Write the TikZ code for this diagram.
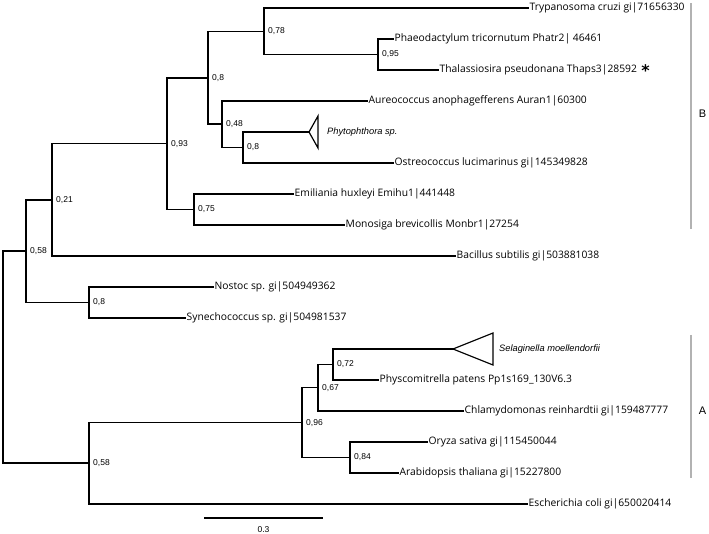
\documentclass[tikz,border=0pt]{standalone}
\usepackage{fontspec}
\setmainfont{Open Sans}
\newfontfamily\arialfont{Liberation Sans}
\newfontfamily\dvfont{DejaVu Sans}
\begin{document}
\begin{tikzpicture}[x=1pt,y=-1pt,
  branch/.style={line width=1.2pt, black, line cap=rect},
  taxon/.style={anchor=west, inner sep=1.5pt, font=\fontsize{10.3}{12}\selectfont},
  support/.style={anchor=west, inner sep=0pt, font=\arialfont\fontsize{8.5}{10}\selectfont},
  clade/.style={anchor=west, inner sep=0pt, font=\arialfont\itshape\fontsize{9.3}{11}\selectfont},
  groupbar/.style={line width=1.5pt, black!30},
  grouplbl/.style={inner sep=0pt, font=\arialfont\fontsize{11}{13}\selectfont}
]
\useasboundingbox (0,0) rectangle (709,534);

% internal nodes
\coordinate (R) at (3,357);
\coordinate (nA) at (26,251);
\coordinate (n021) at (52,200);
\coordinate (n093) at (167,143.75);
\coordinate (n08a) at (208,78);
\coordinate (n078) at (264,31.25);
\coordinate (n095) at (378,54.5);
\coordinate (n048) at (222,124);
\coordinate (n08b) at (243,147.5);
\coordinate (n075) at (194,209.5);
\coordinate (n08c) at (89,302.5);
\coordinate (nB) at (89,463);
\coordinate (n096) at (302,422.6);
\coordinate (n067) at (318,387.75);
\coordinate (n072) at (333,364.5);
\coordinate (n084) at (350,457.5);

% leaves
\node[taxon] (tryp) at (528,8) {Trypanosoma cruzi gi|71656330};
\node[taxon] (phae) at (393,39) {Phaeodactylum tricornutum Phatr2| 46461};
\node[taxon] (thal) at (438,70) {Thalassiosira pseudonana Thaps3|28592};
\node[inner sep=0pt, anchor=base, font=\dvfont\bfseries\fontsize{16}{16}\selectfont] (star) at (645.5,77) {*};
\node[taxon] (aure) at (367,101) {Aureococcus anophagefferens Auran1|60300};
\coordinate (phyt) at (309,132);
\node[clade] (phyl) at (327,132) {Phytophthora sp.};
\node[taxon] (ostr) at (393,163) {Ostreococcus lucimarinus gi|145349828};
\node[taxon] (emil) at (293,194) {Emiliania huxleyi Emihu1|441448};
\node[taxon] (mono) at (344,225) {Monosiga brevicollis Monbr1|27254};
\node[taxon] (baci) at (455,256) {Bacillus subtilis gi|503881038};
\node[taxon] (nost) at (213,287) {Nostoc sp. gi|504949362};
\node[taxon] (syne) at (185,318) {Synechococcus sp. gi|504981537};
\coordinate (selt) at (453,349);
\node[clade] (sell) at (499,349) {Selaginella moellendorfii};
\node[taxon] (phys) at (378,380) {Physcomitrella patens Pp1s169\_130V6.3};
\node[taxon] (chla) at (463,411) {Chlamydomonas reinhardtii gi|159487777};
\node[taxon] (oryz) at (427,442) {Oryza sativa gi|115450044};
\node[taxon] (arab) at (398,473) {Arabidopsis thaliana gi|15227800};
\node[taxon] (ecol) at (527,504) {Escherichia coli gi|650020414};

% collapsed clades
\draw[branch, line cap=butt, line join=miter] (phyt) -- (318,116) -- (318,148) -- cycle;
\draw[branch, line cap=butt, line join=miter] (selt) -- (493,333) -- (493,365) -- cycle;

% branches
\draw[branch] (nA) -| (R) |- (nB);
\draw[branch] (n021) -| (nA) |- (n08c);
\draw[branch] (n093) -| (n021) |- (baci.west);
\draw[branch] (n08a) -| (n093) |- (n075);
\draw[branch] (n078) -| (n08a) |- (n048);
\draw[branch] (tryp.west) -| (n078) |- (n095);
\draw[branch] (phae.west) -| (n095) |- (thal.west);
\draw[branch] (aure.west) -| (n048) |- (n08b);
\draw[branch] (phyt) -| (n08b) |- (ostr.west);
\draw[branch] (emil.west) -| (n075) |- (mono.west);
\draw[branch] (nost.west) -| (n08c) |- (syne.west);
\draw[branch] (n096) -| (nB) |- (ecol.west);
\draw[branch] (n067) -| (n096) |- (n084);
\draw[branch] (n072) -| (n067) |- (chla.west);
\draw[branch] (selt) -| (n072) |- (phys.west);
\draw[branch] (oryz.west) -| (n084) |- (arab.west);

% support values
\node[support] at ([xshift=4pt]nA) {0,58};
\node[support] at ([xshift=4pt]n021) {0,21};
\node[support] at ([xshift=4pt]n093) {0,93};
\node[support] at ([xshift=4pt]n08a) {0,8};
\node[support] at ([xshift=4pt]n078) {0,78};
\node[support] at ([xshift=4pt]n095) {0,95};
\node[support] at ([xshift=4pt]n048) {0,48};
\node[support] at ([xshift=4pt]n08b) {0,8};
\node[support] at ([xshift=4pt]n075) {0,75};
\node[support] at ([xshift=4pt]n08c) {0,8};
\node[support] at ([xshift=4pt]nB) {0,58};
\node[support] at ([xshift=4pt]n096) {0,96};
\node[support] at ([xshift=4pt]n067) {0,67};
\node[support] at ([xshift=4pt]n072) {0,72};
\node[support] at ([xshift=4pt]n084) {0,84};

% group bars
\coordinate (B1) at (691,3);
\coordinate (B2) at (691,229);
\draw[groupbar] (B1) -- (B2);
\node[grouplbl] (Bl) at (702.5,114) {B};
\coordinate (A1) at (691,335);
\coordinate (A2) at (691,478);
\draw[groupbar] (A1) -- (A2);
\node[grouplbl] (Al) at (702.5,411) {A};

% scale bar
\coordinate (sb1) at (204,518);
\coordinate (sb2) at (323,518);
\draw[branch, line cap=butt] (sb1) -- (sb2);
\node[support, anchor=center] (sbl) at (263.5,529.5) {0.3};
\end{tikzpicture}
\end{document}
